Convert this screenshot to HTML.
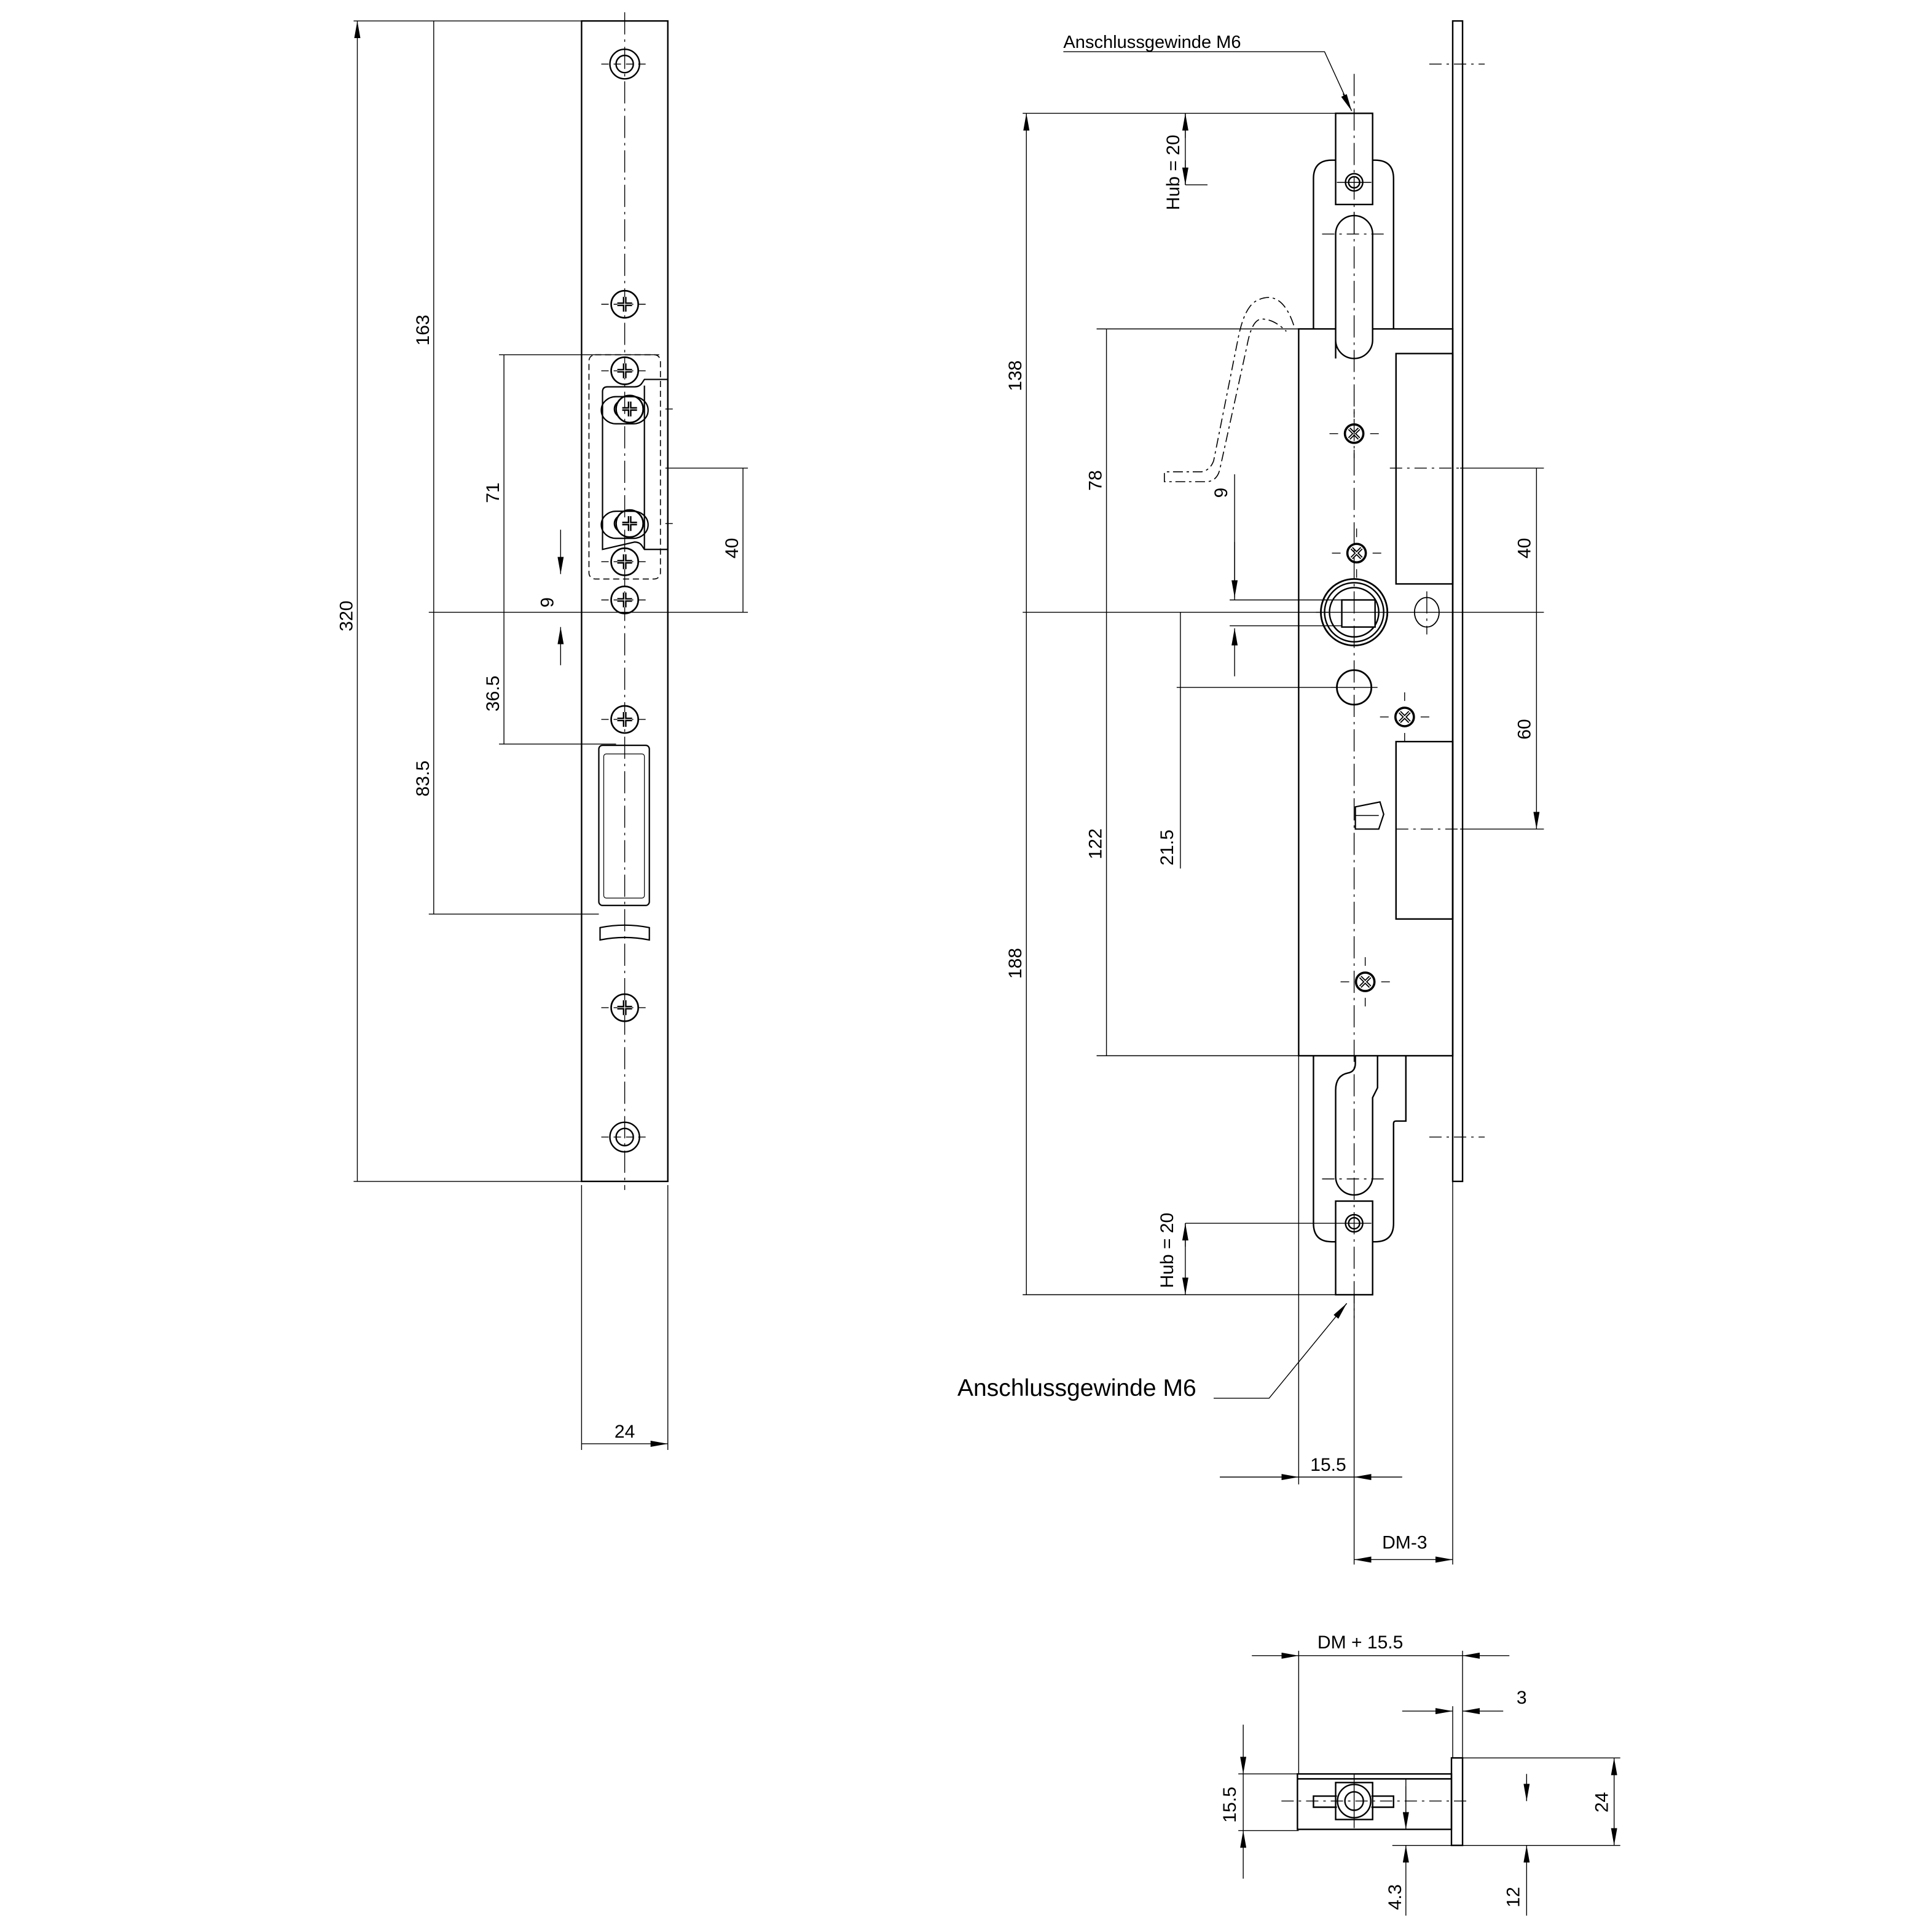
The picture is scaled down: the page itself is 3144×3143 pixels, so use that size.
<!DOCTYPE html>
<html><head><meta charset="utf-8"><style>
html,body{margin:0;padding:0;background:#fff}
svg{display:block}
text{font-family:"Liberation Sans",sans-serif;fill:#000}
</style></head><body>
<svg width="3144" height="3143" viewBox="0 0 1568 1567.5" xmlns="http://www.w3.org/2000/svg">
<defs>
<marker id="a" viewBox="0 0 14 5" refX="14" refY="2.5" markerWidth="14" markerHeight="5" markerUnits="userSpaceOnUse" orient="auto-start-reverse"><path d="M0,0L14,2.5L0,5z"/></marker>
<g id="ph"><circle r="11" fill="none" stroke="#000" stroke-width="1.3"/><path d="M-6,0H6M0,-6V6" stroke="#000" stroke-width="3"/><path d="M-6,0H6M0,-6V6" stroke="#fff" stroke-width="0.6"/></g>
<g id="px"><circle r="7.5" fill="none" stroke="#000" stroke-width="1.8"/><path d="M-4,-4L4,4M-4,4L4,-4" stroke="#000" stroke-width="2.6"/><path d="M-4,-4L4,4M-4,4L4,-4" stroke="#fff" stroke-width="0.8"/><path d="M-20,0H-13M13,0H20M0,-20V-13M0,13V20" stroke="#000" stroke-width="0.7"/></g>
</defs>
<g fill="none" stroke="#000">
<!-- LEFT STRIKE PLATE -->
<rect x="472" y="17" width="70" height="942" stroke-width="1.2"/>
<path d="M507,10V966" stroke-width="0.7" stroke-dasharray="18,4,2,4"/>
<rect x="478" y="288" width="58" height="182" rx="5" stroke-width="0.8" stroke-dasharray="5,3"/>
<path d="M489,446V318q0-4 4-4h22q4 0 6-3l2-3h19v138h-19l-2-3q-2-3-6-3z" stroke-width="1.1"/>
<path d="M523,313V446" stroke-width="1.1"/>
<rect x="486" y="605" width="41" height="130" rx="3" stroke-width="1.1"/>
<rect x="490" y="612" width="33" height="117" rx="2" stroke-width="0.6"/>
<path d="M487,753q20-4 40,0v10q-20-4-40,0z" stroke-width="1.1"/>
<g stroke-width="1.2"><circle cx="507" cy="52" r="12"/><circle cx="507" cy="52" r="7"/><circle cx="507" cy="923" r="12"/><circle cx="507" cy="923" r="7"/></g>
<path d="M488,52H526M488,923H526M488,247H526M488,301H526M488,456H526M488,487H526M488,584H526M488,818H526M540,332H548M540,425H548" stroke-width="0.7" stroke-dasharray="6,4"/>
<g stroke-width="1.1"><path d="M500,322a12,11 0 0 0 0,22h14a12,11 0 0 0 0-22z"/><path d="M500,415a12,11 0 0 0 0,22h14a12,11 0 0 0 0-22z"/><path d="M502,326a7,7 0 0 0 0,12M502,419a7,7 0 0 0 0,12"/></g>
</g>
<use href="#ph" x="507" y="247"/><use href="#ph" x="507" y="301"/><use href="#ph" x="511" y="332"/><use href="#ph" x="511" y="425"/><use href="#ph" x="507" y="456"/><use href="#ph" x="507" y="487"/><use href="#ph" x="507" y="584"/><use href="#ph" x="507" y="818"/>
<g fill="none" stroke="#000" stroke-width="0.7">
<path d="M287,17H472M287,959H472M348,497H607M348,742H486M405,288H535M405,604H500M540,380H607M472,962V1177M542,962V1177"/>
<path d="M290,17V959M352,17V497M352,497V742M409,288V497M409,497V604M603,380V497M472,1172H542" marker-start="url(#a)" marker-end="url(#a)"/>
<path d="M455,430V466" marker-end="url(#a)"/><path d="M455,540V509" marker-end="url(#a)"/>
</g>
<g font-size="15">
<text transform="translate(286,500) rotate(-90)" text-anchor="middle">320</text>
<text transform="translate(348,268) rotate(-90)" text-anchor="middle">163</text>
<text transform="translate(348,632) rotate(-90)" text-anchor="middle">83.5</text>
<text transform="translate(405,400) rotate(-90)" text-anchor="middle">71</text>
<text transform="translate(405,563) rotate(-90)" text-anchor="middle">36.5</text>
<text transform="translate(449,489) rotate(-90)" text-anchor="middle">9</text>
<text transform="translate(599,445) rotate(-90)" text-anchor="middle">40</text>
<text x="507" y="1167" text-anchor="middle">24</text>
</g>

<!-- RIGHT LOCK -->
<g fill="none" stroke="#000" stroke-width="1.2">
<rect x="1179" y="17" width="8" height="942"/>
<rect x="1054" y="267" width="125" height="590"/>
<rect x="1133" y="287" width="46" height="187"/>
<rect x="1133" y="602" width="46" height="144"/>
<path d="M1066,267V145q0-15 15-15h3M1114,130h2q15 0 15 15V267"/>
<rect x="1084" y="92" width="30" height="74" fill="#fff"/>
<circle cx="1099" cy="148" r="7"/><circle cx="1099" cy="148" r="4.5"/>
<path d="M1084,291V190a15,15 0 0 1 30,0V276a15,15 0 0 1-30,0z" fill="#fff"/>
<path d="M1066,857V993q0,15 15,15h3M1114,1008h2q15 0 15-15V912q0-2 2-2h8V857"/>
<path d="M1084,955V885q0-12 10-14q6-1 6-8V857M1118,857v26l-4,8V955a15,15 0 0 1-30,0"/>
<rect x="1084" y="975" width="30" height="76" fill="#fff"/>
<circle cx="1099" cy="993" r="7"/><circle cx="1099" cy="993" r="4.5"/>
<circle cx="1099" cy="497" r="27" stroke-width="1.4"/><circle cx="1099" cy="497" r="24" stroke-width="1.2"/><circle cx="1099" cy="497" r="20"/>
<rect x="1089" y="487" width="27" height="22" fill="#fff"/>
<circle cx="1099" cy="558" r="14" stroke-width="1.4"/>
<ellipse cx="1158" cy="497" rx="10" ry="12" stroke-width="0.9"/>
<path d="M1100,655l20-4l3,10l-4,12h-19z" stroke-width="1.1"/><path d="M1100,662h19" stroke-width="0.8"/>
</g>
<use href="#px" x="1099" y="352"/><use href="#px" x="1101" y="449"/><use href="#px" x="1140" y="582"/><use href="#px" x="1108" y="797"/>
<g fill="none" stroke="#000" stroke-width="0.7">
<path d="M1099,60V1070M1158,480V515" stroke-dasharray="18,4,2,4"/>
<path d="M1160,52H1205M1160,923H1205M1128,380H1185M1068,497H1080M1133,673H1185M1073,190H1125M1073,957H1125" stroke-dasharray="10,4,2,4"/>
<path d="M1099,172V190M1080,558H1118M1085,148H1113M1085,993H1113"/>
<path d="M1050,264q-10-30-30-20q-10 5-15 30l-20 100q-3 8-10 9h-30v8h35q8-1 10-10l22-100q4-22 12-22q10 0 20 10" stroke-dasharray="8,3,2,3" stroke-width="0.8"/>
<path d="M830,92H1085M890,267H1054M830,497H1253M890,857H1054M830,1051H1085M1185,380H1253M1185,673H1253M955,558H1085M998,487H1089M998,508H1089M962,150H980M962,993H1085M1054,857V1205M1099,1051V1270M1179,959V1270"/>
<path d="M833,92V497M833,497V1051M898,267V497M898,497V857M958,497V558M1247,380V497M1247,497V673" marker-start="url(#a)" marker-end="url(#a)"/>
<path d="M958,558V705M1002,385V487M962,92V150"/>
<path d="M1002,440V485" marker-end="url(#a)"/><path d="M1002,549V510" marker-end="url(#a)"/>
<path d="M962,130V150" marker-end="url(#a)"/><path d="M962,112V92" marker-end="url(#a)"/>
<path d="M962,993V1051M962,1030V1051" marker-end="url(#a)"/><path d="M962,1012V993" marker-end="url(#a)"/>
<path d="M990,1199H1054" marker-end="url(#a)"/><path d="M1138,1199H1099" marker-end="url(#a)"/><path d="M1054,1199H1099"/>
<path d="M1099,1266H1179" marker-start="url(#a)" marker-end="url(#a)"/>
<path d="M863,42H1075L1097,90" /><path d="M1090,76L1097,90" marker-end="url(#a)"/>
<path d="M985,1135H1030L1093,1058"/><path d="M1085,1068L1093,1058" marker-end="url(#a)"/>
</g>
<g font-size="15">
<text x="863" y="39" font-size="14.5">Anschlussgewinde M6</text>
<text x="777" y="1133" font-size="19.5">Anschlussgewinde M6</text>
<text transform="translate(957,140) rotate(-90)" text-anchor="middle">Hub = 20</text>
<text transform="translate(952,1015) rotate(-90)" text-anchor="middle">Hub = 20</text>
<text transform="translate(829,305) rotate(-90)" text-anchor="middle">138</text>
<text transform="translate(829,782) rotate(-90)" text-anchor="middle">188</text>
<text transform="translate(894,390) rotate(-90)" text-anchor="middle">78</text>
<text transform="translate(894,685) rotate(-90)" text-anchor="middle">122</text>
<text transform="translate(996,400) rotate(-90)" text-anchor="middle">9</text>
<text transform="translate(952,688) rotate(-90)" text-anchor="middle">21.5</text>
<text transform="translate(1242,445) rotate(-90)" text-anchor="middle">40</text>
<text transform="translate(1242,592) rotate(-90)" text-anchor="middle">60</text>
<text x="1078" y="1194" text-anchor="middle">15.5</text>
<text x="1140" y="1257" text-anchor="middle">DM-3</text>
</g>

<!-- BOTTOM VIEW -->
<g fill="none" stroke="#000" stroke-width="1.2">
<rect x="1053" y="1440" width="125" height="45"/>
<path d="M1053,1444H1178"/>
<rect x="1178" y="1427" width="9" height="71"/>
<rect x="1084" y="1447" width="30" height="30"/>
<circle cx="1099" cy="1462" r="13.5"/><circle cx="1099" cy="1462" r="7.5"/>
<path d="M1085,1458h-19v9h19M1113,1458h18v9h-18"/>
</g>
<g fill="none" stroke="#000" stroke-width="0.7">
<path d="M1040,1462H1190" stroke-dasharray="10,4,2,4"/>
<path d="M1099,1440V1484"/>
<path d="M1054,1340V1440M1187,1340V1427M1179,1385V1427M1005,1440H1054M1005,1486H1054M1187,1427H1315M1187,1498H1315M1130,1498H1187M1141,1444V1472"/>
<path d="M1016,1344H1054" marker-end="url(#a)"/><path d="M1225,1344H1187" marker-end="url(#a)"/><path d="M1054,1344H1187"/>
<path d="M1138,1389H1179" marker-end="url(#a)"/><path d="M1220,1389H1187" marker-end="url(#a)"/>
<path d="M1009,1400V1440" marker-end="url(#a)"/><path d="M1009,1525V1486" marker-end="url(#a)"/><path d="M1009,1440V1486"/>
<path d="M1310,1427V1498" marker-start="url(#a)" marker-end="url(#a)"/>
<path d="M1141,1450V1485" marker-end="url(#a)"/><path d="M1141,1555V1498" marker-end="url(#a)"/>
<path d="M1239,1440V1462" /><path d="M1239,1445V1462" marker-end="url(#a)"/><path d="M1239,1555V1498" marker-end="url(#a)"/>
</g>
<g font-size="15">
<text x="1104" y="1338" text-anchor="middle">DM + 15.5</text>
<text x="1235" y="1383" text-anchor="middle">3</text>
<text transform="translate(1003,1465) rotate(-90)" text-anchor="middle">15.5</text>
<text transform="translate(1305,1463) rotate(-90)" text-anchor="middle">24</text>
<text transform="translate(1137,1540) rotate(-90)" text-anchor="middle">4.3</text>
<text transform="translate(1233,1540) rotate(-90)" text-anchor="middle">12</text>
</g>
</svg>
</body></html>
